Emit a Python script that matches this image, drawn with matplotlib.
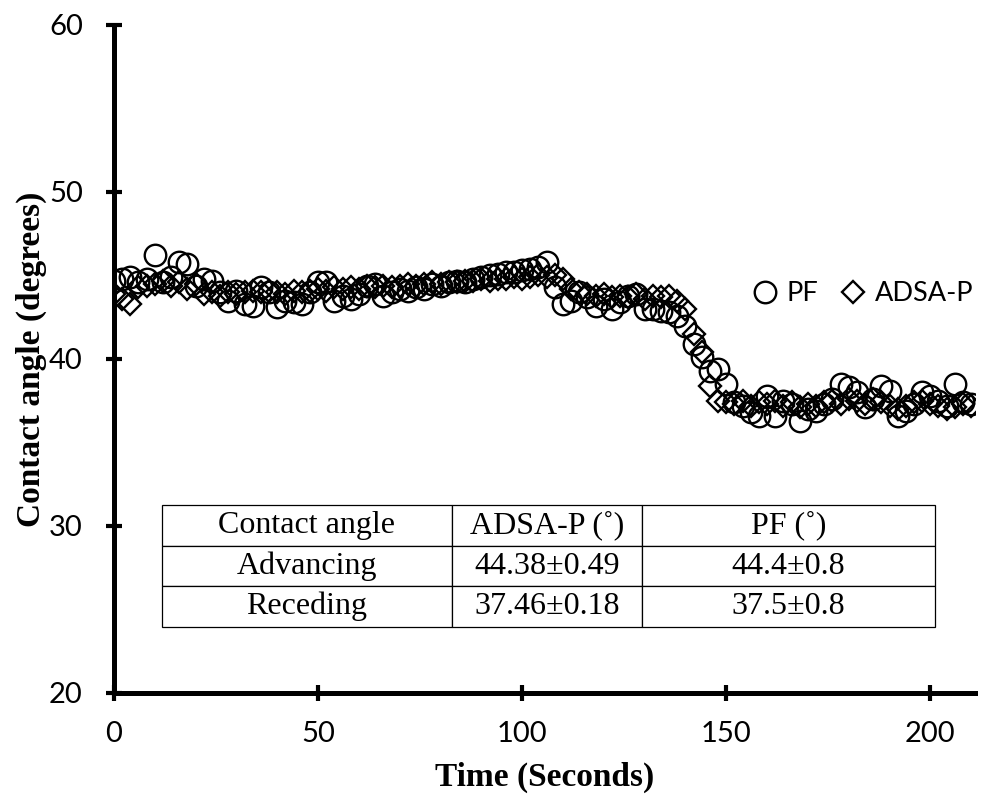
"""Contact angle vs time: PF and ADSA-P."""
import numpy as np
import matplotlib
matplotlib.use("Agg")
import matplotlib.pyplot as plt

# sample times (s), one reading every 2 s
time_s = np.arange(0, 211, 2)

pf = [44.7, 44.8, 44.9, 44.6, 44.8, 46.2, 44.6, 44.9, 45.8, 45.7,
      44.4, 44.8, 44.7, 44.0, 43.5, 44.1, 43.3, 43.2, 44.3, 44.0,
      43.1, 43.5, 43.4, 43.3, 44.0, 44.6, 44.6, 43.5, 43.8, 43.6,
      43.9, 44.4, 44.5, 43.8, 44.0, 44.2, 44.1, 44.3, 44.2, 44.5,
      44.4, 44.6, 44.7, 44.6, 44.8, 44.9, 45.0, 45.1, 45.2, 45.2,
      45.3, 45.4, 45.5, 45.8, 44.3, 43.3, 43.5, 44.0, 43.7, 43.2,
      43.6, 43.0, 43.4, 43.8, 43.9, 43.0, 43.0, 42.9, 42.8, 42.6,
      42.0, 40.9, 40.1, 39.3, 39.4, 38.5, 37.4, 37.2, 36.8, 36.6,
      37.8, 36.6, 37.5, 37.3, 36.3, 37.0, 36.9, 37.3, 37.6, 38.5,
      38.3, 38.0, 37.1, 37.6, 38.4, 38.1, 36.6, 36.9, 37.3, 38.0,
      37.8, 37.5, 37.2, 38.5, 37.4, 37.3]

adsa = [43.9, 43.6, 43.3, 44.3, 44.4, 44.5, 44.7, 44.4, 44.6, 44.2,
        44.5, 43.9, 44.0, 43.8, 44.0, 43.9, 44.0, 44.1, 44.0, 44.1,
        44.0, 43.9, 44.1, 44.0, 44.1, 44.2, 44.1, 44.3, 44.2, 44.3,
        44.2, 44.4, 44.3, 44.4, 44.3, 44.4, 44.5, 44.4, 44.5, 44.6,
        44.5, 44.6, 44.6, 44.7, 44.7, 44.8, 44.7, 44.8, 44.8, 44.9,
        44.8, 44.9, 45.0, 44.9, 45.0, 44.8, 44.2, 44.0, 43.9, 43.8,
        43.9, 43.7, 43.8, 43.7, 43.9, 43.6, 43.8, 43.7, 43.8, 43.5,
        43.0, 41.5, 40.4, 38.4, 37.5, 37.4, 37.3, 37.5, 37.2, 37.4,
        37.3, 37.5, 37.2, 37.4, 37.1, 37.3, 37.2, 37.4, 37.5, 37.3,
        37.6, 37.5, 37.3, 37.6, 37.4, 37.2, 37.0, 37.2, 37.4, 37.5,
        37.3, 37.2, 37.0, 37.1, 37.3, 37.2]

table_cols = ["Contact angle", "ADSA-P (˚)", "PF (˚)"]
table_rows = [["Advancing", "44.38±0.49", "44.4±0.8"],
              ["Receding", "37.46±0.18", "37.5±0.8"]]

fig = plt.figure(figsize=(9.82, 7.96), dpi=100)
ax = fig.add_axes([0.1161, 0.1294, 0.877, 0.8392])

ax.plot(time_s, pf, linestyle="none", marker="o", markersize=15.5,
        markerfacecolor="none", markeredgecolor="black", markeredgewidth=1.7,
        label="PF")
ax.plot(time_s, adsa, linestyle="none", marker="D", markersize=11.5,
        markerfacecolor="none", markeredgecolor="black", markeredgewidth=1.7,
        label="ADSA-P")

ax.set_xlim(0, 211)
ax.set_ylim(20, 60)
ax.set_xticks([0, 50, 100, 150, 200])
ax.set_yticks([20, 30, 40, 50, 60])

for side in ["top", "right"]:
    ax.spines[side].set_visible(False)
for side in ["left", "bottom"]:
    ax.spines[side].set_linewidth(3.6)
ax.tick_params(direction="inout", length=11, width=3, labelsize=21)
ax.tick_params(axis="y", pad=17)
ax.tick_params(axis="x", pad=15)
for lab in ax.get_xticklabels() + ax.get_yticklabels():
    lab.set_family("Lato")

ax.set_xlabel("Time (Seconds)", family="Liberation Serif", weight="bold",
              fontsize=24, labelpad=10)
ax.set_ylabel("Contact angle (degrees)", family="Liberation Serif",
              weight="bold", fontsize=24, labelpad=1)

leg = fig.legend(loc="center left", bbox_to_anchor=(0.765, 0.631),
                 ncol=2, frameon=False, handletextpad=0.3,
                 columnspacing=0.8, handlelength=1.0, borderpad=0,
                 borderaxespad=0, prop={"family": "Lato", "size": 19.5})

# summary table inside the plot
tbl = ax.table(cellText=table_rows, colLabels=table_cols,
               cellLoc="center", bbox=[0.0557, 0.0988, 0.8978, 0.1822],
               colWidths=[0.375, 0.246, 0.379])
tbl.auto_set_font_size(False)
for (r, c), cell in tbl.get_celld().items():
    cell.set_linewidth(0.9)
    cell.get_text().set_fontsize(23)
    cell.get_text().set_family("Liberation Serif")

fig.savefig("out.png", dpi=100)
